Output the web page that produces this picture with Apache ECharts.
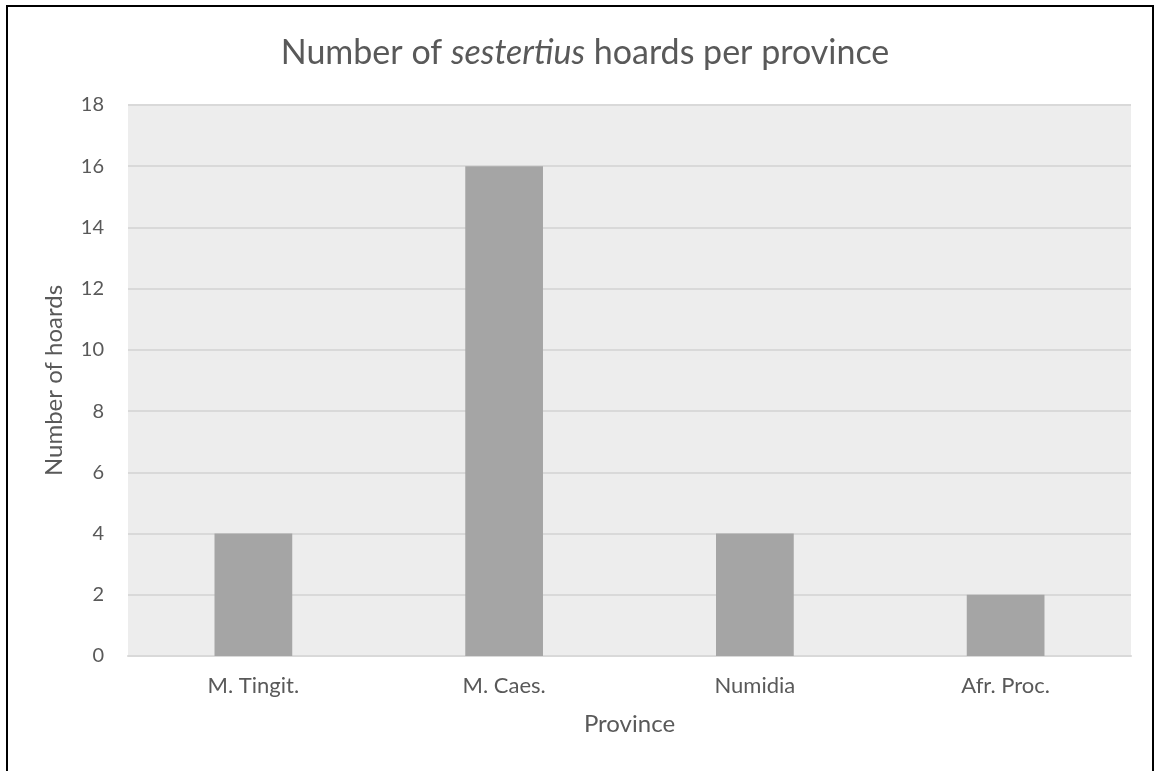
<!DOCTYPE html>
<html>
<head>
<meta charset="utf-8">
<script src="https://cdn.jsdelivr.net/npm/echarts@6/dist/echarts.min.js"></script>
<style>
  html, body { margin: 0; padding: 0; background: #ffffff; }
  #chart { width: 1161px; height: 771px; }
</style>
</head>
<body>
<div id="chart"></div>
<script>
// Provinces and hoard counts
const provinces = ['M. Tingit.', 'M. Caes.', 'Numidia', 'Afr. Proc.'];
const hoardCounts = [4, 16, 4, 2];
const yTicks = { min: 0, max: 18, interval: 2 };

const FONT = 'Lato';
const TEXT = '#595959';

const chart = echarts.init(document.getElementById('chart'));
chart.setOption({
  backgroundColor: '#ffffff',
  animation: false,
  title: {
    text: '{n|Number of }{i|sestertius}{n| hoards per province}',
    left: 580,
    textAlign: 'center',
    top: 31,
    textStyle: {
      fontWeight: 'normal',
      rich: {
        n: { fontFamily: FONT, fontSize: 34, color: TEXT, fontWeight: 'normal' },
        i: { fontFamily: FONT, fontSize: 34, color: TEXT, fontWeight: 'normal', fontStyle: 'italic' }
      }
    }
  },
  graphic: [{
    type: 'rect',
    silent: true,
    shape: { x: 7, y: 6, width: 1146, height: 820 },
    style: { fill: 'none', stroke: '#000000', lineWidth: 2 }
  }],
  grid: {
    left: 128, right: 30, top: 105, bottom: 115,
    show: true, backgroundColor: '#ededed', borderWidth: 0
  },
  xAxis: {
    type: 'category',
    data: provinces,
    name: 'Province',
    nameLocation: 'middle',
    nameGap: 56,
    nameTextStyle: { fontFamily: FONT, fontSize: 24, color: TEXT },
    axisLine: { show: true, lineStyle: { color: '#d9d9d9', width: 2 } },
    axisTick: { show: false },
    axisLabel: { fontFamily: FONT, fontSize: 22, color: TEXT, margin: 19 }
  },
  yAxis: {
    type: 'value',
    min: yTicks.min, max: yTicks.max, interval: yTicks.interval,
    name: 'Number of hoards',
    nameLocation: 'middle',
    nameGap: 62,
    nameTextStyle: { fontFamily: FONT, fontSize: 24, color: TEXT },
    axisLine: { show: false },
    axisTick: { show: false },
    splitLine: { lineStyle: { color: '#d9d9d9', width: 2 } },
    axisLabel: { fontFamily: FONT, fontSize: 20, color: TEXT, margin: 24 }
  },
  series: [{
    type: 'bar',
    data: hoardCounts,
    barWidth: '31%',
    itemStyle: { color: '#a5a5a5' }
  }]
});
</script>
</body>
</html>
